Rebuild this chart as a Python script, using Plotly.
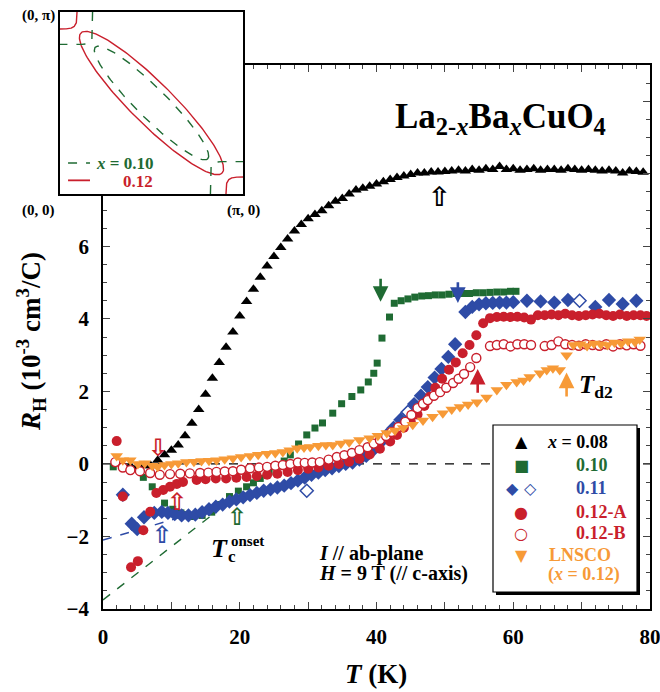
import numpy as np
import plotly.graph_objects as go

W, H = 660, 692

# ---------------- data ----------------
T_008 = [2, 3, 4, 5, 6, 7, 8, 9, 10, 11, 12, 13, 14, 15, 16, 17, 18, 19, 20, 21, 22, 23, 24, 25,
         26, 27, 28, 29, 30, 31, 32, 33, 34, 35, 36, 37, 38, 39, 40, 41, 42, 43, 44, 45, 46, 47,
         48, 49, 50, 51, 52, 53, 54, 55, 56, 57, 58, 59, 60, 61, 62, 63, 64, 65, 66, 67, 68, 69,
         70, 71, 72, 73, 74, 75, 76, 77, 78, 79]
R_008 = [0.02, -0.05, -0.05, -0.08, -0.05, -0.05, 0.1, 0.25, 0.38, 0.52, 0.78, 1.12, 1.5, 1.92,
         2.36, 2.8, 3.22, 3.64, 4.08, 4.48, 4.82, 5.15, 5.46, 5.72, 5.97, 6.2, 6.42, 6.6, 6.76,
         6.88, 6.98, 7.12, 7.24, 7.32, 7.44, 7.55, 7.6, 7.66, 7.72, 7.78, 7.84, 7.9, 7.94, 7.98,
         8.02, 8.02, 8.05, 8.05, 8.06, 8.08, 8.1, 8.08, 8.12, 8.1, 8.14, 8.12, 8.2, 8.12, 8.14,
         8.1, 8.12, 8.14, 8.1, 8.12, 8.12, 8.1, 8.14, 8.12, 8.1, 8.12, 8.1, 8.08, 8.1, 8.08, 8.02,
         8.08, 8.06, 8.04]

T_010 = [1.5, 5.9, 7.2, 9.0, 10.2, 11.4, 12.3, 13.2, 14.5, 15.9, 17.2, 18.5, 19.8, 21.0, 22.0,
         23.0, 24.3, 25.5, 26.5, 27.4, 28.6, 29.8, 31.0, 32.1, 33.6, 34.9, 36.4, 37.7, 38.8, 39.6,
         40.1, 40.8, 41.9, 42.6, 43.6, 44.6, 45.6, 46.6, 47.6, 48.6, 49.6, 50.6, 51.6, 52.6, 53.6,
         54.6, 55.6, 56.6, 57.6, 58.6, 59.6, 60.4]
R_010 = [-0.08, -0.37, -0.63, -1.08, -1.25, -1.35, -1.4, -1.45, -1.42, -1.33, -1.12, -0.9, -0.75,
         -0.63, -0.52, -0.4, -0.22, -0.06, 0.08, 0.25, 0.55, 0.8, 0.99, 1.13, 1.4, 1.66, 1.86,
         2.04, 2.26, 2.5, 2.78, 3.47, 4.05, 4.43, 4.5, 4.55, 4.6, 4.63, 4.64, 4.66, 4.66, 4.68,
         4.7, 4.7, 4.7, 4.72, 4.72, 4.73, 4.74, 4.74, 4.76, 4.76]

T_011 = [2.9, 4.2, 5.0, 6.0, 7.5, 8.6, 9.5, 10.5, 11.5, 12.5, 13.5, 14.5, 15.5, 16.5, 17.5, 18.5,
         19.5, 20.5, 21.5, 22.5, 23.5, 24.5, 25.5, 26.5, 27.5, 28.5, 29.5, 30.5, 31.5, 32.5, 33.5,
         34.5, 35.5, 36.5, 37.5, 38.5, 39.5, 40.5, 41.5, 42.5, 43.5, 44.5, 45.5, 46.5, 47.5, 48.5,
         49.5, 50.5, 51.5, 53, 54, 55, 56, 57, 58, 59, 60, 62, 64, 66, 68, 72, 74, 76, 78]
R_011 = [-0.85, -1.65, -1.8, -1.47, -1.35, -1.32, -1.35, -1.38, -1.42, -1.42, -1.4, -1.33, -1.25,
         -1.18, -1.12, -1.04, -0.98, -0.92, -0.86, -0.8, -0.74, -0.7, -0.65, -0.6, -0.53, -0.46,
         -0.38, -0.3, -0.24, -0.17, -0.12, -0.06, 0.0, 0.04, 0.12, 0.22, 0.38, 0.58, 0.8, 1.0,
         1.22, 1.42, 1.65, 1.88, 2.12, 2.38, 2.62, 2.95, 3.3, 4.19, 4.33, 4.4, 4.43, 4.44, 4.45,
         4.45, 4.46, 4.5, 4.48, 4.45, 4.52, 4.33, 4.52, 4.41, 4.5]
T_011_open = [29.8, 44.6, 69.7]
R_011_open = [-0.74, 1.43, 4.5]

T_012A = [2, 2.9, 4.1, 5.1, 5.9, 6.9, 7.8, 8.8, 9.8, 10.8, 11.7, 13.7, 15, 16.5, 18, 19.5, 21,
          22.5, 24, 25.5, 27, 28.5, 30, 31.5, 33, 34.5, 36, 37.5, 39, 40.5, 42, 43, 44, 45, 46,
          47, 47.8, 48.6, 49.6, 50.6, 51.6, 52.6, 53.6, 54.6, 55.6, 56.6, 57.6, 58.6, 59.6, 60.6,
          61.6, 62.6, 63.6, 64.6, 65.6, 66.6, 67.6, 68.6, 69.6, 70.6, 71.6, 72.6, 73.6, 74.6,
          75.6, 76.6, 77.6, 78.6, 79.5]
R_012A = [0.63, -0.9, -2.85, -2.68, -1.83, -1.32, -0.8, -0.72, -0.63, -0.55, -0.5, -0.44, -0.42,
          -0.4, -0.4, -0.38, -0.36, -0.33, -0.3, -0.27, -0.22, -0.17, -0.13, -0.1, -0.05, 0.0,
          0.06, 0.14, 0.26, 0.42, 0.62, 0.8, 1.0, 1.18, 1.36, 1.6, 1.85, 2.1, 2.35, 2.6, 2.8,
          3.05, 3.28, 3.55, 3.88, 4.02, 4.05, 4.06, 4.05, 4.06, 4.04, 3.98, 4.1, 4.1, 4.12, 4.1,
          4.14, 4.1, 4.08, 4.1, 4.12, 4.14, 4.1, 4.08, 4.12, 4.08, 4.1, 4.1, 4.08]

T_012B = [1.8, 2.9, 4, 5.4, 6.9, 8.3, 9.8, 11.3, 12.7, 14.2, 15.4, 16.6, 17.8, 19, 20.2, 21.5,
          22.8, 24, 25.2, 26.3, 27.4, 28.5, 29.5, 30.6, 31.7, 33, 34.2, 35.3, 36.4, 37.5, 38.7,
          39.6, 40.5, 41.4, 42.2, 43.2, 44.2, 45.1, 46, 46.8, 47.5, 48.4, 49.3, 50.2, 51.2, 52,
          52.8, 53.7, 54.6, 56.6, 57.6, 58.6, 59.6, 60.6, 61.6, 62.6, 64.6, 65.6, 66.6, 67.6,
          68.6, 69.6, 70.6, 71.6, 72.6, 73.6, 74.6, 75.6, 76.6, 77.6, 78.6]
R_012B = [0.05, -0.1, -0.17, -0.2, -0.25, -0.3, -0.28, -0.27, -0.26, -0.25, -0.24, -0.22, -0.21,
          -0.2, -0.16, -0.12, -0.1, -0.08, -0.05, -0.03, 0.0, 0.04, 0.03, 0.04, 0.05, 0.12, 0.19,
          0.24, 0.3, 0.38, 0.46, 0.56, 0.66, 0.77, 0.88, 1.02, 1.16, 1.35, 1.54, 1.66, 1.76, 1.88,
          1.98, 2.1, 2.23, 2.35, 2.48, 2.67, 2.92, 3.25, 3.28, 3.3, 3.24, 3.3, 3.3, 3.28, 3.25,
          3.28, 3.38, 3.3, 3.28, 3.26, 3.3, 3.28, 3.26, 3.3, 3.24, 3.3, 3.27, 3.3, 3.26]

T_LNSCO = [2, 2.9, 4, 5.1, 6.1, 7.2, 8, 9, 10, 11, 12.2, 13.3, 14.4, 15.5, 16.6, 17.8, 19, 20.2,
           21.5, 22.7, 24, 25.2, 26.3, 27.3, 28.4, 29.4, 30.3, 31.5, 32.6, 33.6, 34.8, 36, 37.5,
           39, 40.2, 41.5, 42.7, 43.9, 45.3, 46.8, 48.2, 49.7, 51, 52.2, 53.4, 54.7, 56.1, 57.6,
           59, 60.5, 61.5, 62.4, 63.9, 64.9, 65.8, 66.8, 67.8, 68.8, 69.8, 70.8, 71.8, 72.8, 73.8,
           74.8, 75.8, 76.8, 77.8, 78.5]
R_LNSCO = [0.22, 0.1, 0.1, 0.0, 0.02, -0.05, -0.08, -0.03, 0.0, 0.02, 0.05, 0.06, 0.08, 0.09,
           0.1, 0.13, 0.16, 0.19, 0.22, 0.25, 0.28, 0.3, 0.33, 0.38, 0.43, 0.45, 0.47, 0.5, 0.52,
           0.52, 0.56, 0.6, 0.66, 0.71, 0.78, 0.85, 0.92, 0.99, 1.08, 1.2, 1.3, 1.4, 1.5, 1.57,
           1.64, 1.7, 1.83, 2.04, 2.18, 2.26, 2.3, 2.4, 2.5, 2.59, 2.64, 2.59, 3.0, 3.28, 3.3,
           3.25, 3.32, 3.3, 3.28, 3.35, 3.32, 3.38, 3.36, 3.43]

# extrapolation guides (T, R end points)
T_guide_011 = [0, 13.5]
R_guide_011 = [-2.1, -1.35]
T_guide_010 = [0, 16]
R_guide_010 = [-3.75, -1.4]
T_zero = [0, 80]
R_zero = [0, 0]

# arrows: (T, R_tail, R_tip)
solid_arrows = [(40.6, 5.15, 4.47, "green"), (51.9, 5.05, 4.44, "blue"),
                (54.8, 1.92, 2.62, "red"), (67.8, 1.82, 2.52, "orange")]
open_arrows = [(49.2, 7.37, "up", "black"), (8.0, 0.44, "down", "red"),
               (10.8, -1.05, "up", "red"), (8.6, -1.96, "up", "blue"),
               (19.6, -1.46, "up", "green")]

x_ticks = [0, 10, 20, 30, 40, 50, 60, 70, 80]
x_ticktext = ["0", "", "20", "", "40", "", "60", "", "80"]
y_ticks = [-4, -2, 0, 2, 4, 6, 8, 10]

# inset Fermi-surface sketch parameters (unit = pi)
FS_red = dict(a=0.545, b=0.115)
FS_green = dict(a=0.434, b=0.083)

# ---------------- styles ----------------
C = dict(black="#000000", green="#1f6b33", blue="#2e4ba6", red="#c91f2c", orange="#f79a37")
FONT = "Liberation Serif, Times New Roman, serif"

fig = go.Figure()

# guides
fig.add_trace(go.Scatter(x=T_zero, y=R_zero, mode="lines",
                         line=dict(color="black", width=1.2, dash="dash"), showlegend=False))
fig.add_trace(go.Scatter(x=T_guide_011, y=R_guide_011, mode="lines",
                         line=dict(color=C["blue"], width=1.4, dash="dash"), showlegend=False))
fig.add_trace(go.Scatter(x=T_guide_010, y=R_guide_010, mode="lines",
                         line=dict(color=C["green"], width=1.4, dash="dash"), showlegend=False))

def mk(x, y, symbol, color, size, fill=None, lw=0):
    return go.Scatter(x=x, y=y, mode="markers", showlegend=False,
                      marker=dict(symbol=symbol, size=size,
                                  color=fill if fill else color,
                                  line=dict(color=color, width=lw)))

fig.add_trace(mk(T_008, R_008, "triangle-up", C["black"], 10))
fig.add_trace(mk(T_010, R_010, "square", C["green"], 7))
fig.add_trace(mk(T_011, R_011, "diamond", C["blue"], 11))
fig.add_trace(mk(T_011_open, R_011_open, "diamond", C["blue"], 10, fill="white", lw=1.5))
fig.add_trace(mk(T_012A, R_012A, "circle", C["red"], 10))
fig.add_trace(mk(T_012B, R_012B, "circle", C["red"], 9, fill="white", lw=1.4))
fig.add_trace(mk(T_LNSCO, R_LNSCO, "triangle-down", C["orange"], 11))

# ---------------- inset ----------------
th = np.linspace(0, 2 * np.pi, 200)
def ellipse(a, b):
    d = np.array([1, -1]) / np.sqrt(2)
    n = np.array([1, 1]) / np.sqrt(2)
    u = 0.5 + a * np.cos(th) * d[0] + b * np.sin(th) * n[0]
    v = 0.5 + a * np.cos(th) * d[1] + b * np.sin(th) * n[1]
    return u, v

def corner(cu, cv, r, p, su, sv):
    q = np.linspace(0, np.pi / 2, 60)
    u = cu + su * r * np.cos(q) ** (2 / p)
    v = cv + sv * r * np.sin(q) ** (2 / p)
    return u, v

u, v = ellipse(**FS_red)
fig.add_trace(go.Scatter(x=u, y=v, xaxis="x2", yaxis="y2", mode="lines",
                         line=dict(color=C["red"], width=1.4), showlegend=False))
u, v = ellipse(**FS_green)
fig.add_trace(go.Scatter(x=u, y=v, xaxis="x2", yaxis="y2", mode="lines",
                         line=dict(color=C["green"], width=1.4, dash="dash"), showlegend=False))
for (cu, cv, su, sv) in [(0, 1, 1, -1), (1, 0, -1, 1)]:
    u, v = corner(cu, cv, 0.093, 4, su, sv)
    fig.add_trace(go.Scatter(x=u, y=v, xaxis="x2", yaxis="y2", mode="lines",
                             line=dict(color=C["red"], width=1.4), showlegend=False))
    u, v = corner(cu, cv, 0.178, 10, su, sv)
    fig.add_trace(go.Scatter(x=u, y=v, xaxis="x2", yaxis="y2", mode="lines",
                             line=dict(color=C["green"], width=1.4, dash="dash"), showlegend=False))

# ---------------- layout ----------------
def px_x(x):
    return x / W
def px_y(y):
    return (H - y) / H

tickfont = dict(family=FONT, size=21, color="black", weight="bold")
fig.update_layout(
    width=W, height=H, template="none",
    margin=dict(l=0, r=0, t=0, b=0),
    paper_bgcolor="white", plot_bgcolor="white",
    xaxis=dict(domain=[px_x(103), px_x(650)], range=[0, 80], tickmode="array",
               tickvals=x_ticks, ticktext=x_ticktext, ticks="inside", ticklen=7,
               tickwidth=1.2, showline=True, linewidth=1.5, linecolor="black",
               mirror="ticks", showgrid=False, zeroline=False, tickfont=tickfont,
               ticklabelstandoff=8, ticklabeloverflow="allow",
               minor=dict(dtick=2, ticks="inside", ticklen=4, tickwidth=1, showgrid=False)),
    yaxis=dict(domain=[px_y(609), px_y(65)], range=[-4, 11], tickmode="array",
               tickvals=y_ticks, ticks="inside", ticklen=7, tickwidth=1.2,
               showline=True, linewidth=1.5, linecolor="black", mirror="ticks",
               showgrid=False, zeroline=False, tickfont=tickfont, ticklabelstandoff=8,
               ticklabeloverflow="allow",
               minor=dict(dtick=0.5, ticks="inside", ticklen=4, tickwidth=1, showgrid=False)),
    xaxis2=dict(domain=[px_x(60), px_x(243)], range=[0, 1], anchor="y2", showline=True,
                linewidth=2, linecolor="black", mirror=True, showticklabels=False,
                ticks="", showgrid=False, zeroline=False),
    yaxis2=dict(domain=[px_y(194), px_y(12)], range=[0, 1], anchor="x2", showline=True,
                linewidth=2, linecolor="black", mirror=True, showticklabels=False,
                ticks="", showgrid=False, zeroline=False),
)

ann = []
def text(x, y, s, size, color="black", xanchor="left", yanchor="middle", angle=0, fam=FONT):
    ann.append(dict(x=px_x(x), y=px_y(y), xref="paper", yref="paper", text=s,
                    showarrow=False, xanchor=xanchor, yanchor=yanchor, textangle=angle,
                    font=dict(family=fam, size=size, color=color, weight="bold")))

# axis titles
text(376, 674, "<i>T</i> (K)", 27, xanchor="center")
text(31, 342, "<i>R</i><sub>H</sub> (10<sup>-3</sup> cm<sup>3</sup>/C)", 27,
     xanchor="center", angle=-90)
# formula title
text(393, 118, "La<sub>2-<i>x</i></sub>Ba<sub><i>x</i></sub>CuO<sub>4</sub>", 35)
# Tc onset
text(209, 548, "<i>T</i>", 26)
text(226, 556, "c", 17)
text(229, 541, "onset", 15)
# conditions
text(317, 553, "<i>I</i> // ab-plane", 20)
text(317, 573, "<i>H</i> = 9 T (// c-axis)", 20)
# Td2
text(577, 386, "<i>T</i><sub>d2</sub>", 25)
# inset labels
text(38, 16, "(0, π)", 15, xanchor="center")
text(38, 211, "(0, 0)", 15, xanchor="center")
text(243, 210, "(π, 0)", 15, xanchor="center")
text(155, 163, "<i>x</i> = 0.10", 17, color=C["green"], xanchor="right")
text(155, 182, "0.12", 17, color=C["red"], xanchor="right")

# legend box
shapes = [
    dict(type="rect", xref="paper", yref="paper", x0=px_x(496), x1=px_x(640),
         y0=px_y(595), y1=px_y(428), fillcolor="black", line=dict(width=0), layer="above"),
    dict(type="rect", xref="paper", yref="paper", x0=px_x(493), x1=px_x(637),
         y0=px_y(592), y1=px_y(425), fillcolor="white", line=dict(color="black", width=1.2),
         layer="above"),
    dict(type="line", xref="x2", yref="y2", x0=0.044, x1=0.164, y0=0.17, y1=0.17,
         line=dict(color=C["green"], width=1.4, dash="dash")),
    dict(type="line", xref="x2", yref="y2", x0=0.044, x1=0.164, y0=0.075, y1=0.075,
         line=dict(color=C["red"], width=1.8)),
]
SYM = "DejaVu Sans"
leg = [
    (442, "▲", C["black"], 521, "<i>x</i> = 0.08", 545),
    (465, "■", C["green"], 521, "0.10", 574),
    (488, "◆", C["blue"], 512, "0.11", 574),
    (512, "●", C["red"], 521, "0.12-A", 574),
    (533, "○", C["red"], 521, "0.12-B", 574),
    (555, "▼", C["orange"], 521, "LNSCO", 547),
]
for (y, s, c, xs, t, xt) in leg:
    text(xs, y, s, 16, color=c, xanchor="center", fam=SYM)
    text(xt, y, t, 18, color=c)
text(530, 488, "◇", 16, color=C["blue"], xanchor="center", fam=SYM)
text(546, 574, "(<i>x</i> = 0.12)", 18, color=C["orange"])

# arrows
for (T, r0, r1, c) in solid_arrows:
    ann.append(dict(x=T, y=r1, ax=T, ay=r0, xref="x", yref="y", axref="x", ayref="y",
                    text="", showarrow=True, arrowhead=2, arrowsize=1.2, arrowwidth=2.6,
                    arrowcolor=C[c]))
for (T, r, d, c) in open_arrows:
    ann.append(dict(x=T, y=r, xref="x", yref="y", text="⇧" if d == "up" else "⇩",
                    showarrow=False, font=dict(family=SYM, size=27 if c == "black" else 24,
                                                color=C[c], weight="bold")))

fig.update_layout(annotations=ann, shapes=shapes)
fig.write_html("out.html", config={"displayModeBar": False},
               post_script="document.body.style.margin='0px';")
